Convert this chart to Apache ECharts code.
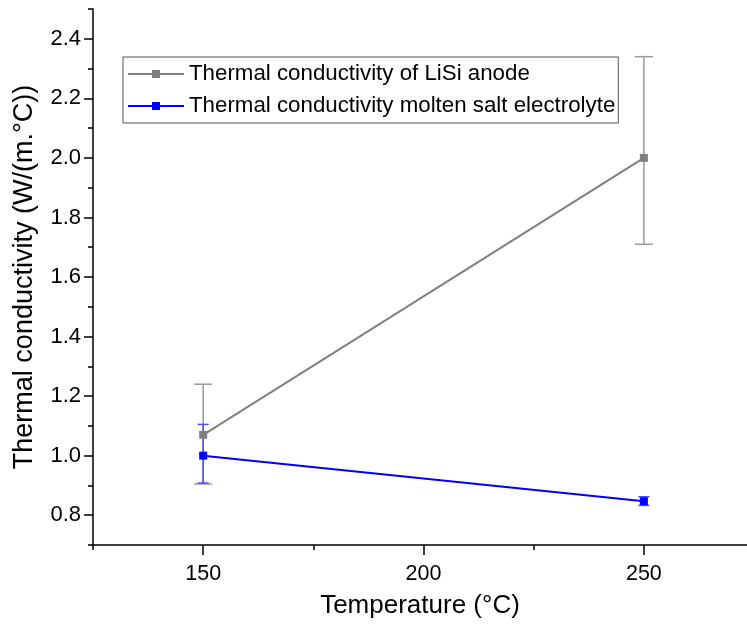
<!DOCTYPE html>
<html>
<head>
<meta charset="utf-8">
<script src="https://cdn.jsdelivr.net/npm/echarts@6/dist/echarts.min.js"></script>
<style>html,body{margin:0;padding:0;background:#fff;}#c{width:747px;height:630px;}</style>
</head>
<body>
<div id="c"></div>
<script>
const temperatures = [150, 250];
const lisiValues = [1.07, 2.0];
const lisiLow = [0.905, 1.71];
const lisiHigh = [1.24, 2.34];
const saltValues = [1.0, 0.847];
const saltLow = [0.908, 0.833];
const saltHigh = [1.105, 0.862];
const xMajorTicks = [150, 200, 250];
const xMinorTicks = [125, 175, 225];
const yMajorTicks = [0.8, 1.0, 1.2, 1.4, 1.6, 1.8, 2.0, 2.2, 2.4];
const yMinorTicks = [0.7, 0.9, 1.1, 1.3, 1.5, 1.7, 1.9, 2.1, 2.3, 2.5];
const seriesNames = ['Thermal conductivity of LiSi anode', 'Thermal conductivity molten salt electrolyte'];

const FONT = 'Liberation Sans, Arial, sans-serif';
const chart = echarts.init(document.getElementById('c'), null, {renderer: 'canvas'});

function errorSeries(vals, lo, hi, color, cap, name) {
  return {
    type: 'custom',
    name: name,
    xAxisIndex: 0, yAxisIndex: 0,
    data: temperatures.map((t, i) => [t, lo[i], hi[i]]),
    z: 1,
    silent: true,
    renderItem: function (params, api) {
      const x = api.value(0);
      const pLo = api.coord([x, api.value(1)]);
      const pHi = api.coord([x, api.value(2)]);
      const st = {stroke: color, lineWidth: 1.5};
      return {
        type: 'group',
        children: [
          {type: 'line', shape: {x1: pLo[0], y1: pLo[1], x2: pHi[0], y2: pHi[1]}, style: st},
          {type: 'line', shape: {x1: pLo[0] - cap / 2, y1: pLo[1], x2: pLo[0] + cap / 2, y2: pLo[1]}, style: st},
          {type: 'line', shape: {x1: pHi[0] - cap / 2, y1: pHi[1], x2: pHi[0] + cap / 2, y2: pHi[1]}, style: st}
        ]
      };
    }
  };
}

const axisLineStyle = {color: '#000', width: 1.5};

const option = {
  animation: false,
  backgroundColor: '#fff',
  grid: {left: 93, top: 9, width: 654, height: 536, containLabel: false},
  legend: {
    data: seriesNames,
    orient: 'vertical',
    left: 123, top: 57,
    width: 500,
    padding: [6, 3, 6, 4],
    itemWidth: 56, itemHeight: 10,
    itemGap: 10,
    borderColor: '#555', borderWidth: 1,
    textStyle: {fontFamily: FONT, fontSize: 22.3, color: '#000'},
    backgroundColor: '#fff'
  },
  xAxis: [{
    type: 'value', min: 125, max: 273.4, interval: 25,
    axisLine: {show: true, lineStyle: axisLineStyle},
    axisTick: {show: true, customValues: xMajorTicks, length: 10, lineStyle: {color: '#000', width: 1.5}},
    axisLabel: {customValues: xMajorTicks, fontFamily: FONT, fontSize: 21.5, color: '#000', margin: 18},
    splitLine: {show: false},
    name: 'Temperature (°C)', nameLocation: 'middle', nameGap: 48,
    nameTextStyle: {fontFamily: FONT, fontSize: 26, color: '#000'}
  }, {
    type: 'value', min: 125, max: 273.4, position: 'bottom',
    axisLine: {show: false},
    axisTick: {show: true, customValues: xMinorTicks, length: 5, lineStyle: {color: '#000', width: 1.5}},
    axisLabel: {show: false},
    splitLine: {show: false}
  }],
  yAxis: [{
    type: 'value', min: 0.7, max: 2.5,
    axisLine: {show: true, lineStyle: axisLineStyle},
    axisTick: {show: true, customValues: yMajorTicks, length: 9, lineStyle: {color: '#000', width: 1.5}},
    axisLabel: {customValues: yMajorTicks, fontFamily: FONT, fontSize: 22, color: '#000', margin: 12,
      formatter: v => v.toFixed(1)},
    splitLine: {show: false},
    name: 'Thermal conductivity (W/(m.°C))', nameLocation: 'middle', nameGap: 55,
    nameTextStyle: {fontFamily: FONT, fontSize: 27, color: '#000'}
  }, {
    type: 'value', min: 0.7, max: 2.5, position: 'left',
    axisLine: {show: false},
    axisTick: {show: true, customValues: yMinorTicks, length: 5, lineStyle: {color: '#000', width: 1.5}},
    axisLabel: {show: false},
    splitLine: {show: false}
  }],
  series: [
    errorSeries(lisiValues, lisiLow, lisiHigh, '#9a9a9a', 18, 'lisiErr'),
    errorSeries(saltValues, saltLow, saltHigh, '#4a4aff', 11, 'saltErr'),
    {
      name: seriesNames[0], type: 'line',
      data: temperatures.map((t, i) => [t, lisiValues[i]]),
      symbol: 'rect', symbolSize: 8,
      lineStyle: {color: '#808080', width: 2},
      itemStyle: {color: '#808080'},
      z: 3
    },
    {
      name: seriesNames[1], type: 'line',
      data: temperatures.map((t, i) => [t, saltValues[i]]),
      symbol: 'rect', symbolSize: 8,
      lineStyle: {color: '#0000ff', width: 2},
      itemStyle: {color: '#0000ff'},
      z: 4
    }
  ]
};
chart.setOption(option);
</script>
</body>
</html>
